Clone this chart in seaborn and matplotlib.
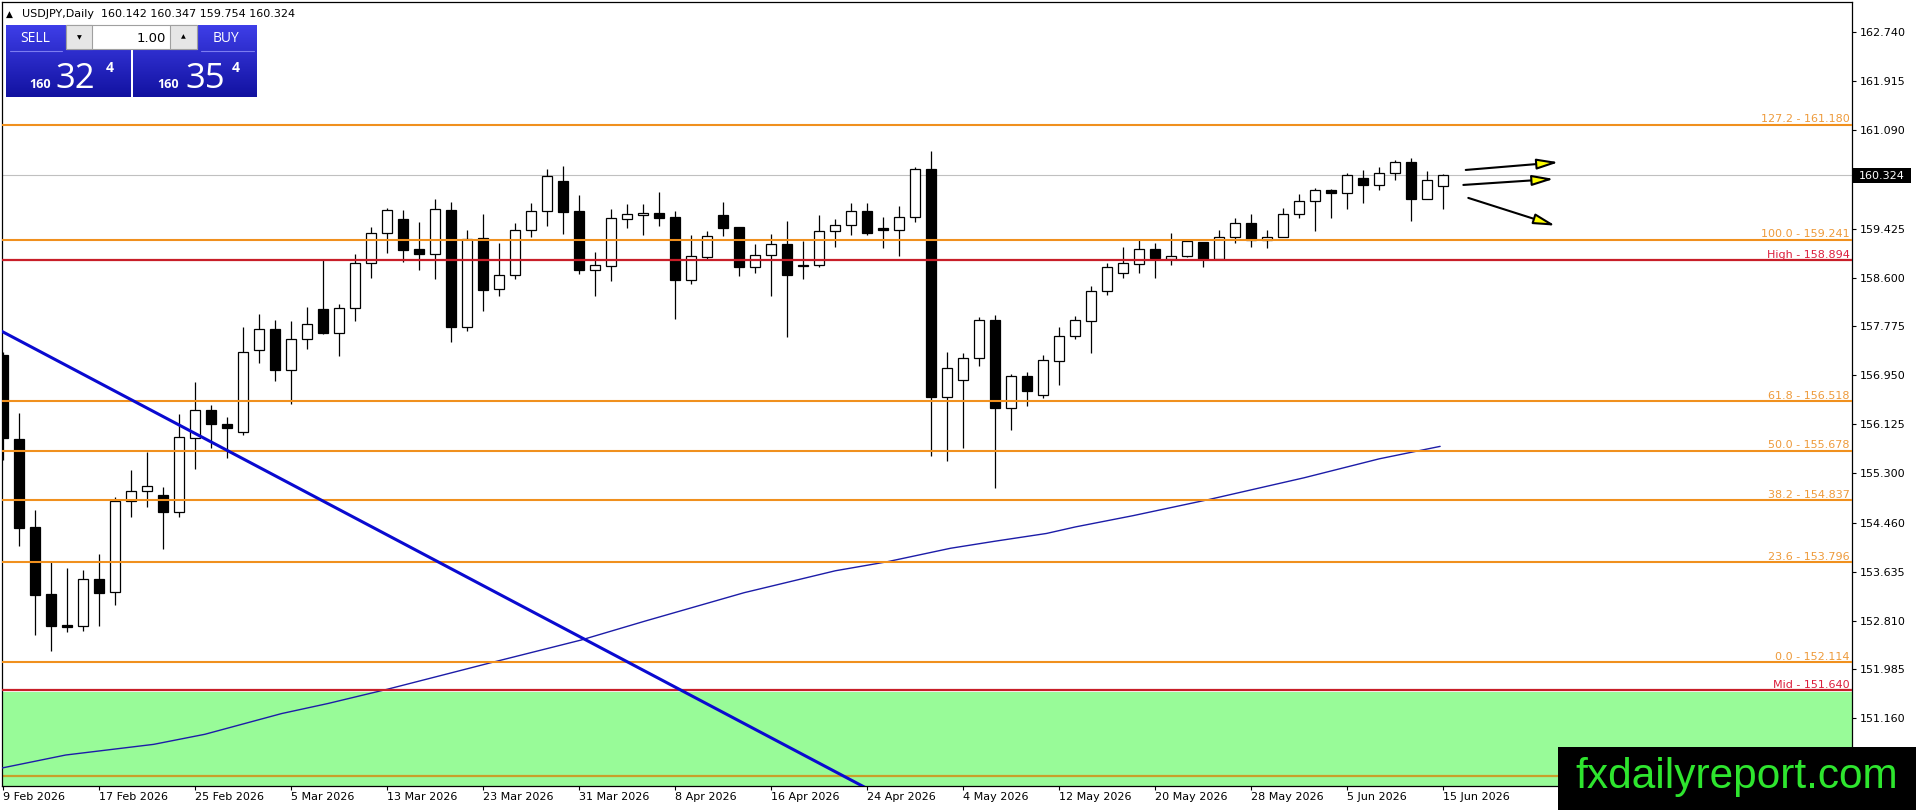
import numpy as np
import pandas as pd
import matplotlib
matplotlib.use("Agg")
import matplotlib.pyplot as plt
import seaborn as sns
from matplotlib.patches import Rectangle, FancyArrowPatch

# ---------------- data ----------------
opens = [157.29, 155.87, 154.39, 153.25, 152.74, 152.71, 153.51, 153.29, 154.82, 154.99,
         154.93, 154.65, 155.89, 156.36, 156.12, 156.00, 157.37, 157.73, 157.04, 157.57,
         158.07, 157.67, 158.08, 158.85, 159.35, 159.59, 159.08, 158.99, 159.74, 157.77,
         159.27, 158.40, 158.65, 159.40, 159.72, 160.23, 159.72, 158.72, 158.80, 159.59,
         159.65, 159.69, 159.62, 158.56, 158.95, 159.66, 159.45, 158.77, 158.98, 159.16,
         158.81, 158.81, 159.38, 159.48, 159.72, 159.43, 159.41, 159.62, 160.43, 156.59,
         156.87, 157.24, 157.88, 156.39, 156.93, 156.61, 157.19, 157.61, 157.86, 158.37,
         158.67, 158.82, 159.08, 158.92, 158.97, 159.20, 158.91, 159.29, 159.52, 159.23,
         159.29, 159.67, 159.90, 160.07, 160.02, 160.28, 160.17, 160.36, 160.55, 159.93,
         160.142]
highs = [157.35, 156.31, 154.68, 153.79, 153.69, 153.66, 153.93, 154.90, 155.35, 155.65,
         155.06, 156.29, 156.84, 156.45, 156.24, 157.77, 157.99, 157.88, 157.87, 158.11,
         158.90, 158.15, 159.00, 159.45, 159.77, 159.74, 159.53, 159.93, 159.87, 159.40,
         159.67, 159.19, 159.52, 159.85, 160.43, 160.48, 159.99, 159.03, 159.76, 159.84,
         159.84, 160.04, 159.72, 159.32, 159.39, 159.88, 159.46, 159.17, 159.34, 159.56,
         159.22, 159.66, 159.58, 159.86, 159.86, 159.62, 159.81, 160.47, 160.74, 157.35,
         157.33, 157.94, 157.96, 156.98, 157.01, 157.29, 157.77, 157.95, 158.45, 158.85,
         159.11, 159.23, 159.18, 159.36, 159.23, 159.20, 159.40, 159.60, 159.67, 159.40,
         159.77, 160.01, 160.11, 160.09, 160.36, 160.42, 160.46, 160.58, 160.61, 160.39,
         160.347]
lows = [155.52, 154.06, 152.57, 152.29, 152.61, 152.64, 152.71, 153.07, 154.55, 154.73,
        154.01, 154.55, 155.36, 155.72, 155.55, 155.94, 157.16, 156.86, 156.47, 157.39,
        157.65, 157.28, 157.87, 158.59, 159.02, 158.87, 158.73, 158.58, 157.52, 157.70,
        158.04, 158.29, 158.58, 159.29, 159.47, 159.34, 158.66, 158.28, 158.54, 159.44,
        159.32, 159.47, 157.90, 158.49, 158.90, 159.30, 158.62, 158.67, 158.28, 157.60,
        158.57, 158.77, 159.12, 159.31, 159.32, 159.10, 158.97, 159.53, 155.58, 155.51,
        155.73, 157.10, 155.05, 156.03, 156.43, 156.56, 156.79, 157.56, 157.33, 158.31,
        158.59, 158.68, 158.60, 158.81, 158.95, 158.77, 158.91, 159.18, 159.12, 159.10,
        159.29, 159.61, 159.39, 159.61, 159.75, 159.86, 160.07, 160.25, 159.56, 159.92,
        159.754]
closes = [155.89, 154.38, 153.24, 152.72, 152.70, 153.51, 153.28, 154.83, 154.99, 155.08,
          154.65, 155.90, 156.36, 156.12, 156.06, 157.35, 157.73, 157.04, 157.56, 157.81,
          157.66, 158.08, 158.85, 159.35, 159.74, 159.07, 158.99, 159.75, 157.77, 159.25,
          158.39, 158.65, 159.40, 159.72, 160.31, 159.71, 158.72, 158.81, 159.60, 159.67,
          159.69, 159.61, 158.56, 158.96, 159.30, 159.44, 158.78, 158.98, 159.16, 158.65,
          158.79, 159.38, 159.48, 159.72, 159.36, 159.41, 159.62, 160.43, 156.59, 157.07,
          157.24, 157.88, 156.39, 156.93, 156.69, 157.20, 157.61, 157.88, 158.37, 158.77,
          158.84, 159.08, 158.93, 158.97, 159.21, 158.91, 159.29, 159.52, 159.23, 159.28,
          159.67, 159.90, 160.07, 160.02, 160.33, 160.17, 160.36, 160.55, 159.93, 160.24,
          160.324]

date_tick_bars = list(range(0, 91, 6))
date_tick_labels = ["9 Feb 2026", "17 Feb 2026", "25 Feb 2026", "5 Mar 2026", "13 Mar 2026",
                    "23 Mar 2026", "31 Mar 2026", "8 Apr 2026", "16 Apr 2026", "24 Apr 2026",
                    "4 May 2026", "12 May 2026", "20 May 2026", "28 May 2026", "5 Jun 2026",
                    "15 Jun 2026"]
price_ticks = [162.740, 161.915, 161.090, 160.265, 159.425, 158.600, 157.775, 156.950,
               156.125, 155.300, 154.460, 153.635, 152.810, 151.985, 151.160, 150.335]
# tick labels hidden in the reference (under the price box / the logo box)
hidden_tick_labels = [160.265, 150.335]

fib_levels = [161.180, 159.241, 156.518, 155.678, 154.837, 153.796, 152.114]
fib_names = ["127.2", "100.0", "61.8", "50.0", "38.2", "23.6", "0.0"]
red_levels = [158.894, 151.640]
red_names = ["High", "Mid"]
zone_top = 151.60
lower_line = 150.19

ma_bars = [-0.1, 3.9, 9.4, 12.6, 17.4, 20.3, 24.0, 30.5, 36.1, 40.1, 46.3, 52.0, 55.2,
           59.2, 62.0, 65.2, 67.0, 70.6, 75.3, 81.3, 86.0, 89.8]
ma_vals = [150.32, 150.54, 150.72, 150.89, 151.24, 151.41, 151.65, 152.10, 152.48, 152.80,
           153.28, 153.65, 153.80, 154.03, 154.15, 154.28, 154.39, 154.58, 154.85, 155.22,
           155.54, 155.75]

trend_bars = [-0.5, 55.0]
trend_vals = [157.75, 149.83]

arrow_x0 = [91.4, 91.25, 91.56]
arrow_y0 = [160.416, 160.163, 159.944]
arrow_x1 = [97.2, 96.9, 97.0]
arrow_y1 = [160.546, 160.264, 159.476]

last_price = 160.324
header_text = "USDJPY,Daily  160.142 160.347 159.754 160.324"

# ---------------- figure ----------------
sns.set_theme(style="white")
plt.rcParams["font.family"] = ["DejaVu Sans"]

W, H = 1916, 810
fig = plt.figure(figsize=(W / 100, H / 100), dpi=100, facecolor="white")
ax = fig.add_axes([2 / W, 24 / H, 1850 / W, 784 / H])
ax.set_facecolor("white")

df = pd.DataFrame({"o": opens, "h": highs, "l": lows, "c": closes})
df["bar"] = np.arange(len(df))
up = df["c"] >= df["o"]

# zone and lines
ax.axhspan(140, zone_top, color="#98FB98", zorder=0.5, lw=0)
ax.axhline(lower_line, color="#C8A02A", lw=1.6, zorder=1)
ax.axhline(last_price, color="#C0C0C0", lw=0.8, zorder=1)

# candles
ax.vlines(df["bar"], df["l"], df["h"], color="black", lw=0.9, zorder=2)
body = (df["c"] - df["o"]).abs().clip(lower=0.012)
ax.bar(df["bar"], body, bottom=np.minimum(df["o"], df["c"]), width=0.64,
       color=np.where(up, "white", "black"), edgecolor="black", linewidth=0.9, zorder=3)

# moving average
sns.lineplot(x=ma_bars, y=ma_vals, ax=ax, color="#1C1CA8", lw=1.0, zorder=4,
             estimator=None, sort=False)

# fib lines
for lv, nm in zip(fib_levels, fib_names):
    ax.axhline(lv, color="#F0901E", lw=1.5, zorder=5)
    ax.annotate(f"{nm} - {lv:.3f}", xy=(1, lv), xycoords=("axes fraction", "data"),
                xytext=(-1.5, 1.6), textcoords="offset points", ha="right", va="baseline",
                fontsize=8, color="#EE9A3A", zorder=5)
for lv, nm in zip(red_levels, red_names):
    ax.axhline(lv, color="#C81E28", lw=1.6, zorder=5)
    ax.annotate(f"{nm} - {lv:.3f}", xy=(1, lv), xycoords=("axes fraction", "data"),
                xytext=(-1.5, 1.6), textcoords="offset points", ha="right", va="baseline",
                fontsize=8, color="#DC1E3C", zorder=5)

# trend line
sns.lineplot(x=trend_bars, y=trend_vals, ax=ax, color="#0A0AD0", lw=2.2, zorder=6,
             estimator=None, sort=False)

# arrows
for x0, y0, x1, y1 in zip(arrow_x0, arrow_y0, arrow_x1, arrow_y1):
    ax.add_patch(FancyArrowPatch((x0, y0), (x1, y1),
                                 arrowstyle="-|>,head_length=13,head_width=3.2",
                                 mutation_scale=1, shrinkA=0, shrinkB=0,
                                 fc="#FFFF00", ec="black", lw=1.5, zorder=7))

ax.set_xlim(-0.08, 115.54)
ax.set_ylim(150.017, 163.251)

ax.set_xticks(date_tick_bars)
ax.set_xticklabels(date_tick_labels, fontsize=8, ha="left", color="black")
ax.yaxis.tick_right()
ax.set_yticks(price_ticks)
ax.set_yticklabels(["" if v in hidden_tick_labels else f"{v:.3f}" for v in price_ticks],
                   fontsize=8, color="black")
ax.tick_params(axis="x", direction="out", length=3, width=0.8, pad=1.5, colors="black",
               bottom=True)
ax.tick_params(axis="y", direction="out", length=3, width=0.8, pad=2.5, colors="black",
               right=True, left=False)
ax.set_xlabel("")
ax.set_ylabel("")
for s in ax.spines.values():
    s.set_visible(True)
    s.set_color("black")
    s.set_linewidth(0.9)
ax.grid(False)

# ---------------- overlay (pixel coords) ----------------
ov = fig.add_axes([0, 0, 1, 1], zorder=10)
ov.set_facecolor("none")
ov.axis("off")

# header
ov.text(6, 17, "\u25B2", fontsize=6.5, color="black", ha="left", va="baseline")
ov.text(22, 17, header_text, fontsize=8, color="black", ha="left", va="baseline")

# blue trade panels with gradient
grad = np.linspace(0, 1, 64)[:, None]
top_c = np.array([62, 62, 232]) / 255
bot_c = np.array([18, 18, 160]) / 255
img = (top_c[None, None, :] * (1 - grad[:, :, None]) + bot_c[None, None, :] * grad[:, :, None])
for x0, x1 in [(6, 131), (133, 257)]:
    ov.imshow(img, extent=(x0, x1, 97, 25), origin="upper", aspect="auto", zorder=1,
              interpolation="bilinear")
ov.plot([10, 62], [51, 51], color="#7C7CF0", lw=0.8, zorder=2)
ov.plot([201, 254], [51, 51], color="#7C7CF0", lw=0.8, zorder=2)

# lot size control
ov.add_patch(Rectangle((66, 25), 131, 24, fc="white", ec="#A0A0A0", lw=0.8, zorder=3))
ov.add_patch(Rectangle((66, 25), 26, 24, fc="#E6E6E6", ec="#A0A0A0", lw=0.8, zorder=3))
ov.add_patch(Rectangle((170, 25), 27, 24, fc="#E6E6E6", ec="#A0A0A0", lw=0.8, zorder=3))
ov.text(79, 37.5, "\u25BC", fontsize=4.5, color="black", ha="center", va="center", zorder=4)
ov.text(183.5, 37, "\u25B2", fontsize=4.5, color="black", ha="center", va="center", zorder=4)
ov.text(166, 38, "1.00", fontsize=9.5, color="black", ha="right", va="center", zorder=4)

ov.text(35.5, 38, "SELL", fontsize=10, color="white", ha="center", va="center",
        family=["Open Sans", "DejaVu Sans"], zorder=4)
ov.text(226, 38, "BUY", fontsize=10, color="white", ha="center", va="center",
        family=["Open Sans", "DejaVu Sans"], zorder=4)

for xs, xb, xsup, big in [(29, 75, 109.5, "32"), (157, 205, 235.5, "35")]:
    ov.text(xs, 88, "160", fontsize=9, fontweight="bold", color="white", ha="left",
            va="baseline", family=["Open Sans", "DejaVu Sans"], zorder=4)
    ov.text(xb, 88, big, fontsize=25, color="white", ha="center", va="baseline",
            family=["Open Sans", "DejaVu Sans"], zorder=4)
    ov.text(xsup, 71.5, "4", fontsize=10, fontweight="bold", color="white", ha="center",
            va="baseline", family=["Open Sans", "DejaVu Sans"], zorder=4)

# current price box
ov.add_patch(Rectangle((1853, 168), 58, 15, fc="black", ec="none", zorder=3))
ov.text(1859, 176, f"{last_price:.3f}", fontsize=8, color="white", ha="left", va="center",
        zorder=4)

# logo box
ov.add_patch(Rectangle((1558, 747), 358, 63, fc="black", ec="none", zorder=5))
ov.text(1575, 788, "fxdailyreport.com", fontsize=30.5, color="#2EE52E", ha="left",
        va="baseline", family=["Liberation Sans", "DejaVu Sans"], zorder=6)

ov.set_xlim(0, W)
ov.set_ylim(H, 0)

fig.savefig("out.png", dpi=100, facecolor="white")
